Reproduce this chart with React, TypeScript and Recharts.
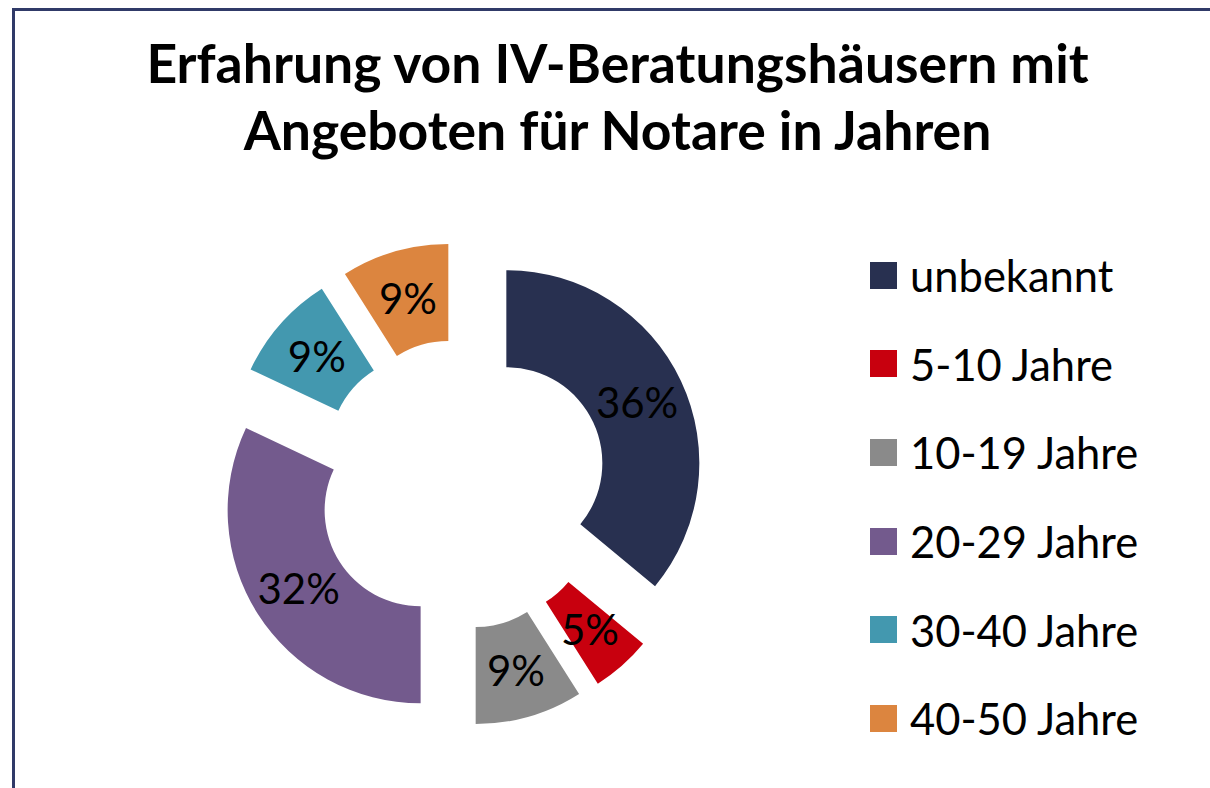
import { PieChart, Pie, Cell, Sector, Legend } from "recharts"

const categories = ["unbekannt", "5-10 Jahre", "10-19 Jahre", "20-29 Jahre", "30-40 Jahre", "40-50 Jahre"]
const shares = [36, 5, 9, 32, 9, 9]
const titleLines = ["Erfahrung von IV-Beratungshäusern mit", "Angeboten für Notare in Jahren"]

const colors = ["#283050", "#C8000E", "#8A8A8A", "#735A8D", "#4398AF", "#DC853F"]
const FONT = "Lato, sans-serif"
const RADIAN = Math.PI / 180
const EXPLODE = 49

const data = categories.map((name, i) => ({ name, value: shares[i] }))

// pushes each sector outwards along its mid angle
function ExplodedSector(props: any) {
  const { cx, cy, midAngle } = props
  const dx = EXPLODE * Math.cos(-midAngle * RADIAN)
  const dy = EXPLODE * Math.sin(-midAngle * RADIAN)
  return <Sector {...props} cx={cx + dx} cy={cy + dy} />
}

function renderLabel(props: any) {
  const { cx, cy, midAngle, innerRadius, outerRadius, percent } = props
  const r = EXPLODE + (innerRadius + outerRadius) / 2
  const x = cx + r * Math.cos(-midAngle * RADIAN)
  const y = cy + r * Math.sin(-midAngle * RADIAN)
  return (
    <text
      x={x}
      y={y}
      fill="#000"
      textAnchor="middle"
      dominantBaseline="central"
      style={{ fontFamily: FONT, fontSize: 42 }}
    >
      {`${Math.round(percent * 100)}%`}
    </text>
  )
}

function LegendList({ payload }: any) {
  // keep the order of the data, not alphabetical
  const items = [...(payload || [])].sort(
    (a: any, b: any) => categories.indexOf(a.value) - categories.indexOf(b.value)
  )
  return (
    <div style={{ fontFamily: FONT }}>
      {items.map((entry: any) => (
        <div key={entry.value} style={{ display: "flex", alignItems: "center", height: 88.6 }}>
          <div style={{ width: 27, height: 27, background: entry.color, marginRight: 13 }} />
          <span style={{ fontSize: 43.5, color: "#000", lineHeight: "52px", whiteSpace: "nowrap" }}>
            {entry.value}
          </span>
        </div>
      ))}
    </div>
  )
}

export default function App() {
  return (
    <div
      style={{
        position: "absolute",
        left: 0,
        top: 0,
        width: 1210,
        height: 788,
        overflow: "hidden",
        background: "#fff",
      }}
    >
      <div
        style={{
          position: "absolute",
          left: 12,
          top: 8,
          width: 1230,
          height: 820,
          border: "3px solid #303A68",
          boxSizing: "border-box",
        }}
      />
      <div
        style={{
          position: "absolute",
          left: 25,
          top: 29,
          width: 1185,
          textAlign: "center",
          fontFamily: FONT,
          fontWeight: 700,
          fontSize: 53.5,
          lineHeight: "67px",
          color: "#000",
          whiteSpace: "nowrap",
        }}
      >
        {titleLines.map((line) => (
          <div key={line}>{line}</div>
        ))}
      </div>
      <div style={{ position: "absolute", left: 0, top: 0 }}>
        <PieChart width={1210} height={788} margin={{ top: 0, right: 0, bottom: 0, left: 0 }}>
          <Pie
            data={data}
            dataKey="value"
            nameKey="name"
            cx={462}
            cy={484}
            innerRadius={96}
            outerRadius={193}
            startAngle={90}
            endAngle={-270}
            stroke="none"
            shape={ExplodedSector}
            label={renderLabel}
            labelLine={false}
            isAnimationActive={false}
          >
            {data.map((d, i) => (
              <Cell key={d.name} fill={colors[i]} />
            ))}
          </Pie>
          <Legend
            layout="vertical"
            align="right"
            verticalAlign="top"
            content={<LegendList />}
            wrapperStyle={{ left: 870, top: 231, width: 340, right: "auto" }}
          />
        </PieChart>
      </div>
    </div>
  )
}
